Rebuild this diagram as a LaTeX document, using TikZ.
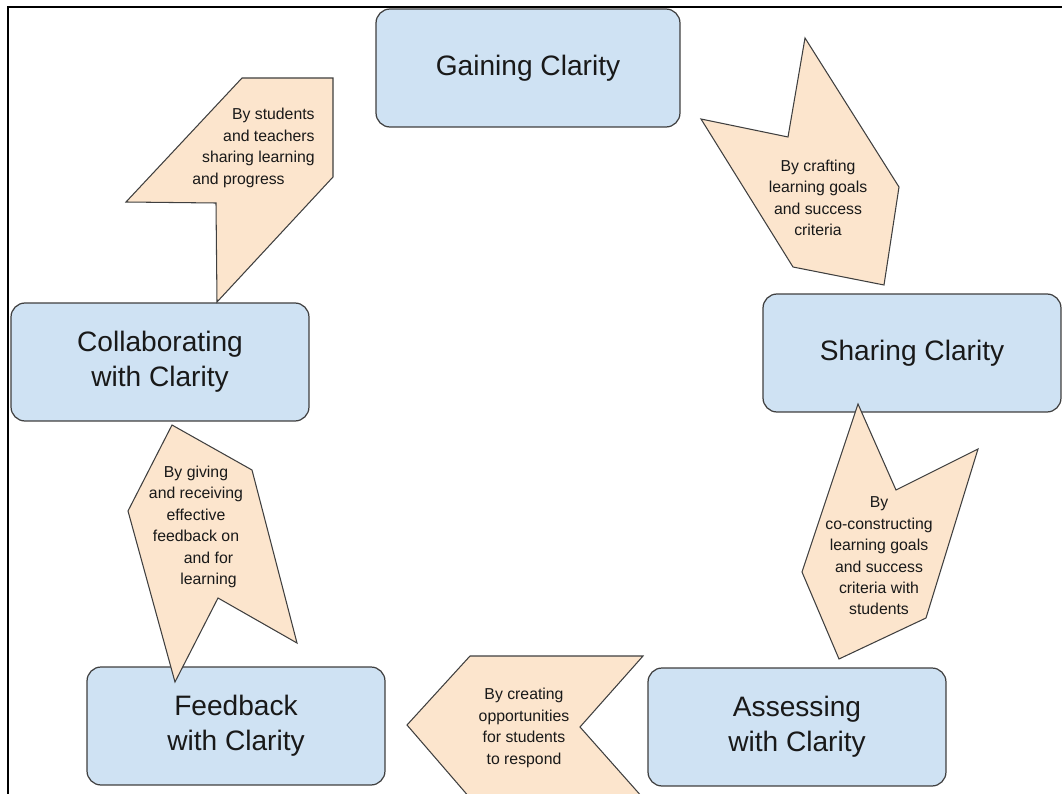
\documentclass[tikz,border=0pt]{standalone}
\usepackage{fontspec}
\setmainfont{Liberation Sans}
\definecolor{stageblue}{HTML}{CFE2F3}
\definecolor{notepeach}{HTML}{FCE5CD}
\definecolor{edgegray}{HTML}{3F3F3F}

\begin{document}
\begin{tikzpicture}[x=0.02cm, y=-0.02cm,
		stage/.style={rectangle, rounded corners=0.28cm, draw=edgegray, line width=0.7pt, fill=stageblue, minimum width=5.96cm, minimum height=2.36cm, align=center, font=\fontsize{16}{20}\selectfont, text=black!90},
		shout/.style={draw=edgegray, line width=0.6pt, fill=notepeach},
		note/.style={align=center, inner sep=0pt, font=\fontsize{9}{12.2}\selectfont, text=black!90}]
			\useasboundingbox (0,0) rectangle (1062,794);
			\clip (0,0) rectangle (1062,794);
			\draw[line width=1.4pt] (8,800) -- (8,7) -- (1070,7);

			\node[stage, minimum width=6.08cm] (gaining) at (528,68) {Gaining Clarity};
			\node[stage] (sharing) at (912,353) {Sharing Clarity};
			\node[stage] (assessing) at (797,727) {Assessing\\with Clarity};
			\node[stage] (feedback) at (236,726) {Feedback\\with Clarity};
			\node[stage] (collab) at (160,362) {Collaborating\\with Clarity};

			\draw[shout] (242,78) -- (333,78) -- (333,177) -- (217,302) -- (216,203) -- (126,202) -- cycle;
			\node[note, align=right, anchor=east] (sharelearning) at (315,148) {By students\\and teachers\\sharing learning\hspace*{0.2cm}\\and progress\hspace*{0.6cm}};

			\draw[shout] (805,38) -- (899,187) -- (884,285) -- (793,267) -- (701,119) -- (788,137) -- cycle;
			\node[note] (crafting) at (818,198) {By crafting\\learning goals\\and success\\criteria};

			\draw[shout] (858,404) -- (896,490) -- (978,449) -- (926,618) -- (839,659) -- (802,572) -- cycle;
			\node[note] (coconstruct) at (879,556) {By\\co-constructing\\learning goals\\and success\\criteria with\\students};

			\draw[shout] (407,725) -- (470,656) -- (643,656) -- (580,727) -- (643,798) -- (470,798) -- cycle;
			\node[note] (respond) at (524,728) {By creating\\opportunities\\for students\\to respond};

			\draw[shout] (172,425) -- (252,470) -- (297,643) -- (218,598) -- (175,682) -- (128,511) -- cycle;
			\node[note] (giving) at (196,527) {By giving\\and receiving\\effective\\feedback on\\\hspace*{0.5cm}and for\\\hspace*{0.5cm}learning};
		\end{tikzpicture}
\end{document}
